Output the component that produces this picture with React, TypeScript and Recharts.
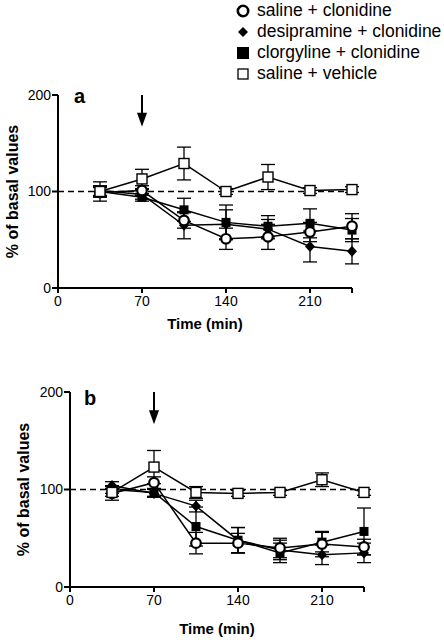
import React from 'react';
import {
  LineChart,
  Line,
  XAxis,
  YAxis,
  ErrorBar,
  ReferenceLine,
  ReferenceDot,
  Label,
} from 'recharts';

const FONT = '"Liberation Sans", Arial, Helvetica, sans-serif';

const TIMES = [35, 70, 105, 140, 175, 210, 245];
const X_TICKS = [0, 70, 140, 210, 245];
const Y_TICKS = [0, 100, 200];
const SERIES_NAMES = [
  'saline + clonidine',
  'desipramine + clonidine',
  'clorgyline + clonidine',
  'saline + vehicle',
];

// panel a
const A_SAL_CLON = [99, 101, 70, 51, 53, 58, 64];
const A_SAL_CLON_ERR = [5, 5, 8, 11, 13, 10, 13];
const A_DESI = [101, 97, 65, 66, 61, 43, 38];
const A_DESI_ERR = [5, 5, 14, 15, 10, 16, 13];
const A_CLORG = [100, 94, 81, 68, 64, 67, 60];
const A_CLORG_ERR = [5, 4, 12, 18, 11, 15, 12];
const A_VEHICLE = [100, 113, 129, 100, 115, 101, 102];
const A_VEHICLE_ERR = [10, 10, 17, 3, 13, 3, 3];

// panel b
const B_SAL_CLON = [96, 107, 45, 45, 40, 44, 41];
const B_SAL_CLON_ERR = [7, 6, 11, 10, 10, 13, 8];
const B_DESI = [104, 96, 83, 48, 38, 33, 35];
const B_DESI_ERR = [4, 4, 6, 13, 10, 10, 10];
const B_CLORG = [100, 97, 62, 48, 35, 46, 57];
const B_CLORG_ERR = [4, 4, 20, 13, 10, 10, 24];
const B_VEHICLE = [97, 123, 97, 96, 97, 110, 97];
const B_VEHICLE_ERR = [4, 17, 6, 3, 3, 7, 3];

const buildRows = (
  sc: number[], scErr: number[],
  de: number[], deErr: number[],
  cl: number[], clErr: number[],
  ve: number[], veErr: number[],
) =>
  TIMES.map((t, i) => ({
    t,
    sc: sc[i], scErr: scErr[i],
    de: de[i], deErr: deErr[i],
    cl: cl[i], clErr: clErr[i],
    ve: ve[i], veErr: veErr[i],
  }));

const dataA = buildRows(A_SAL_CLON, A_SAL_CLON_ERR, A_DESI, A_DESI_ERR, A_CLORG, A_CLORG_ERR, A_VEHICLE, A_VEHICLE_ERR);
const dataB = buildRows(B_SAL_CLON, B_SAL_CLON_ERR, B_DESI, B_DESI_ERR, B_CLORG, B_CLORG_ERR, B_VEHICLE, B_VEHICLE_ERR);

const openCircle = (p: any) => (
  <circle key={`oc${p.index}`} cx={p.cx} cy={p.cy} r={4.8} fill="#fff" stroke="#000" strokeWidth={2.2} />
);
const diamond = (p: any) => (
  <path
    key={`di${p.index}`}
    d={`M${p.cx},${p.cy - 5.5} L${p.cx + 5},${p.cy} L${p.cx},${p.cy + 5.5} L${p.cx - 5},${p.cy} Z`}
    fill="#000"
  />
);
const filledSquare = (p: any) => (
  <rect key={`fs${p.index}`} x={p.cx - 4.5} y={p.cy - 4.5} width={9} height={9} fill="#000" />
);
const openSquare = (p: any) => (
  <rect key={`os${p.index}`} x={p.cx - 5} y={p.cy - 5} width={10} height={10} fill="#fff" stroke="#000" strokeWidth={1.4} />
);

const arrowHead = (p: any) => (
  <path d={`M${p.cx - 5},${p.cy - 14} L${p.cx + 5},${p.cy - 14} L${p.cx},${p.cy} Z`} fill="#000" />
);

const yLabel = (x: number) => (props: any) => {
  const vb = props.viewBox || {};
  const cy = vb.y + vb.height / 2;
  return (
    <text
      x={x}
      y={cy}
      transform={`rotate(-90 ${x} ${cy})`}
      textAnchor="middle"
      dominantBaseline="central"
      fontFamily={FONT}
      fontWeight="bold"
      fontSize={16}
      fill="#000"
    >
      % of basal values
    </text>
  );
};

const xLabel = (dy: number) => (props: any) => {
  const vb = props.viewBox || {};
  const cx = vb.x + vb.width / 2;
  return (
    <text
      x={cx}
      y={vb.y + dy}
      textAnchor="middle"
      dominantBaseline="central"
      fontFamily={FONT}
      fontWeight="bold"
      fontSize={15}
      fill="#000"
    >
      Time (min)
    </text>
  );
};

interface PanelProps {
  data: any[];
  top: number;
  plotHeight: number;
  yAxisWidth: number;
  marginTop: number;
  marginRight: number;
  yLabelX: number;
  xLabelDy: number;
  letter: string;
  letterPos: { left: number; top: number };
}

const axisStyle = { stroke: '#000', strokeWidth: 2 };
const tickStyle = { fill: '#000', fontSize: 14, fontFamily: FONT };

function Panel({ data, top, plotHeight, yAxisWidth, marginTop, marginRight, yLabelX, xLabelDy, letter, letterPos }: PanelProps) {
  return (
    <>
      <div style={{ position: 'absolute', left: 0, top }}>
        <LineChart
          width={444}
          height={260}
          data={data}
          margin={{ top: marginTop, right: marginRight, left: 0, bottom: 260 - marginTop - 45 - plotHeight }}
        >
          <XAxis
            type="number"
            dataKey="t"
            domain={[0, 245]}
            ticks={X_TICKS}
            tickFormatter={(v: number) => (v === 245 ? '' : String(v))}
            axisLine={axisStyle}
            tickLine={axisStyle}
            tickSize={5}
            tickMargin={3}
            tick={tickStyle}
            height={45}
            interval={0}
          >
            <Label content={xLabel(xLabelDy)} />
          </XAxis>
          <YAxis
            type="number"
            domain={[0, 200]}
            ticks={Y_TICKS}
            axisLine={axisStyle}
            tickLine={axisStyle}
            tickSize={6}
            tickMargin={1}
            tick={tickStyle}
            width={yAxisWidth}
            interval={0}
          >
            <Label content={yLabel(yLabelX)} />
          </YAxis>
          <ReferenceLine y={100} stroke="#000" strokeWidth={1.3} strokeDasharray="6 4" />
          <ReferenceLine segment={[{ x: 70, y: 200 }, { x: 70, y: 180 }]} stroke="#000" strokeWidth={2} />
          <ReferenceDot x={70} y={167} r={5} shape={arrowHead} />
          <Line dataKey="cl" stroke="#000" strokeWidth={1.5} dot={filledSquare} isAnimationActive={false}>
            <ErrorBar dataKey="clErr" width={7} stroke="#000" strokeWidth={1.3} direction="y" isAnimationActive={false} />
          </Line>
          <Line dataKey="de" stroke="#000" strokeWidth={1.5} dot={diamond} isAnimationActive={false}>
            <ErrorBar dataKey="deErr" width={7} stroke="#000" strokeWidth={1.3} direction="y" isAnimationActive={false} />
          </Line>
          <Line dataKey="sc" stroke="#000" strokeWidth={1.5} dot={openCircle} isAnimationActive={false}>
            <ErrorBar dataKey="scErr" width={7} stroke="#000" strokeWidth={1.3} direction="y" isAnimationActive={false} />
          </Line>
          <Line dataKey="ve" stroke="#000" strokeWidth={1.5} dot={openSquare} isAnimationActive={false}>
            <ErrorBar dataKey="veErr" width={7} stroke="#000" strokeWidth={1.3} direction="y" isAnimationActive={false} />
          </Line>
        </LineChart>
      </div>
      <div
        style={{
          position: 'absolute',
          left: letterPos.left,
          top: letterPos.top,
          fontFamily: FONT,
          fontWeight: 'bold',
          fontSize: 20,
          lineHeight: '20px',
        }}
      >
        {letter}
      </div>
    </>
  );
}

const legendMarkers = [
  <circle cx={7} cy={7} r={5.2} fill="#fff" stroke="#000" strokeWidth={2.6} />,
  <path d="M7,2 L12,7 L7,12 L2,7 Z" fill="#000" />,
  <rect x={1} y={1} width={12} height={12} fill="#000" />,
  <rect x={2} y={2} width={10} height={10} fill="#fff" stroke="#000" strokeWidth={1.3} />,
];

export default function App() {
  return (
    <div style={{ position: 'absolute', left: 0, top: 0, width: 444, height: 640, background: '#fff', fontFamily: FONT }}>
      <div style={{ position: 'absolute', left: 236, top: 0 }}>
        {SERIES_NAMES.map((name, i) => (
          <div key={name} style={{ display: 'flex', alignItems: 'center', height: 21, fontSize: 17.5, color: '#000', whiteSpace: 'nowrap' }}>
            <svg width={16} height={14} style={{ marginRight: 5 }}>
              {legendMarkers[i]}
            </svg>
            <span>{name}</span>
          </div>
        ))}
      </div>
      <Panel
        data={dataA}
        top={80}
        plotHeight={193}
        yAxisWidth={58}
        marginTop={15}
        marginRight={92}
        yLabelX={12}
        xLabelDy={35}
        letter="a"
        letterPos={{ left: 74, top: 86 }}
      />
      <Panel
        data={dataB}
        top={380}
        plotHeight={195}
        yAxisWidth={70}
        marginTop={12}
        marginRight={80}
        yLabelX={23}
        xLabelDy={41}
        letter="b"
        letterPos={{ left: 84, top: 388 }}
      />
    </div>
  );
}
